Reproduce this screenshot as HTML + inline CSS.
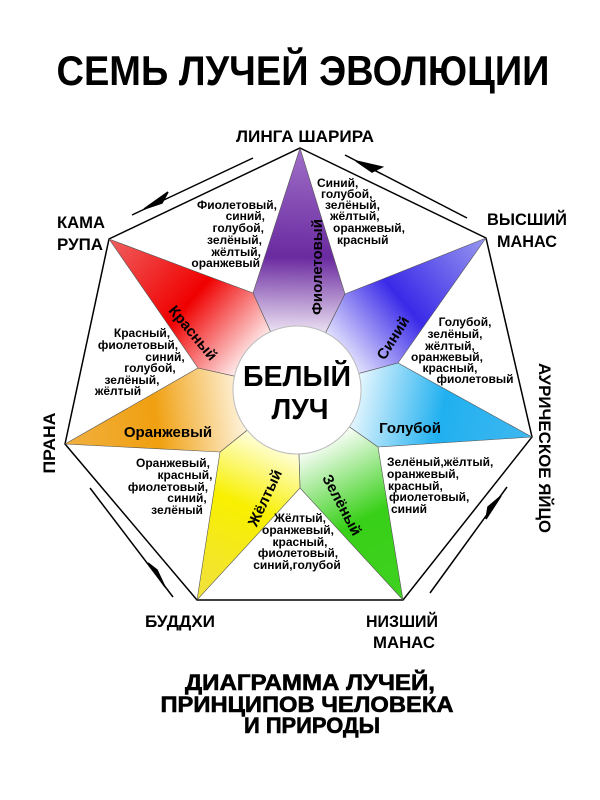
<!DOCTYPE html>
<html><head><meta charset="utf-8"><style>
html,body{margin:0;padding:0;background:#fff;}
svg{display:block;}
text{font-family:"Liberation Sans",sans-serif;font-weight:bold;fill:#000;}
.s{font-size:12px;}
.r{font-size:15px;}
.v{font-size:17px;}
</style></head><body>
<svg width="600" height="800" viewBox="0 0 600 800">
<defs>
<linearGradient id="gV" gradientUnits="userSpaceOnUse" x1="300" y1="148" x2="297" y2="330"><stop offset="0" stop-color="#a070c8"/><stop offset="0.6" stop-color="#6a2aa0"/><stop offset="1" stop-color="#e8dcf0"/></linearGradient>
<linearGradient id="gB" gradientUnits="userSpaceOnUse" x1="486" y1="238" x2="340" y2="360"><stop offset="0" stop-color="#9898f0"/><stop offset="0.55" stop-color="#3a2ae8"/><stop offset="1" stop-color="#f0f0ff"/></linearGradient>
<linearGradient id="gC" gradientUnits="userSpaceOnUse" x1="532" y1="437" x2="350" y2="400"><stop offset="0" stop-color="#40b8f0"/><stop offset="0.5" stop-color="#20b0f0"/><stop offset="1" stop-color="#f0faff"/></linearGradient>
<linearGradient id="gG" gradientUnits="userSpaceOnUse" x1="403" y1="600" x2="320" y2="440"><stop offset="0" stop-color="#40d020"/><stop offset="0.5" stop-color="#38d018"/><stop offset="1" stop-color="#ffffff"/></linearGradient>
<linearGradient id="gY" gradientUnits="userSpaceOnUse" x1="197" y1="600" x2="270" y2="440"><stop offset="0" stop-color="#f0e040"/><stop offset="0.6" stop-color="#f8f000"/><stop offset="1" stop-color="#ffffe0"/></linearGradient>
<linearGradient id="gO" gradientUnits="userSpaceOnUse" x1="65" y1="444" x2="250" y2="420"><stop offset="0" stop-color="#f0b040"/><stop offset="0.5" stop-color="#f0a010"/><stop offset="1" stop-color="#fff8e8"/></linearGradient>
<linearGradient id="gR" gradientUnits="userSpaceOnUse" x1="109" y1="239" x2="250" y2="360"><stop offset="0" stop-color="#f06060"/><stop offset="0.55" stop-color="#f00000"/><stop offset="1" stop-color="#fff0f0"/></linearGradient>
</defs>

<text x="303" y="85" font-size="42" text-anchor="middle" textLength="493" lengthAdjust="spacingAndGlyphs">СЕМЬ ЛУЧЕЙ ЭВОЛЮЦИИ</text>

<polygon points="300,148 486,238 532,437 403,600 197,600 65,444 109,239" fill="#fff" stroke="#000" stroke-width="1.5"/>

<g stroke="#555" stroke-width="0.6">
<polygon points="300,148 345,294 297,390 253,293" fill="url(#gV)"/>
<polygon points="486,238 398,363 297,390 345,294" fill="url(#gB)"/>
<polygon points="532,437 378,447 297,390 398,363" fill="url(#gC)"/>
<polygon points="403,600 300,488 297,390 378,447" fill="url(#gG)"/>
<polygon points="197,600 220,452 297,390 300,488" fill="url(#gY)"/>
<polygon points="65,444 198,368 297,390 220,452" fill="url(#gO)"/>
<polygon points="109,239 253,293 297,390 198,368" fill="url(#gR)"/>
</g>
<circle cx="297" cy="390" r="64" fill="#fff" stroke="#bbb" stroke-width="1"/>
<text x="297" y="386" font-size="29" text-anchor="middle" textLength="108" lengthAdjust="spacingAndGlyphs">БЕЛЫЙ</text>
<text x="300" y="419" font-size="29" text-anchor="middle" textLength="57" lengthAdjust="spacingAndGlyphs">ЛУЧ</text>

<text class="r" transform="translate(317,267) rotate(-90)" text-anchor="middle" dy="5">Фиолетовый</text>
<text class="r" transform="translate(193,333) rotate(50)" text-anchor="middle" dy="5">Красный</text>
<text class="r" transform="translate(393,338) rotate(-58)" text-anchor="middle" dy="5">Синий</text>
<text class="r" x="168" y="437" text-anchor="middle">Оранжевый</text>
<text class="r" x="410" y="433" text-anchor="middle">Голубой</text>
<text class="r" transform="translate(265,498) rotate(-65)" text-anchor="middle" dy="5">Жёлтый</text>
<text class="r" transform="translate(342,505) rotate(62)" text-anchor="middle" dy="5">Зелёный</text>

<g class="s">
<text x="277" y="209" text-anchor="end">Фиолетовый,</text>
<text x="265" y="220" text-anchor="end">синий,</text>
<text x="264" y="232" text-anchor="end">голубой,</text>
<text x="262" y="244" text-anchor="end">зелёный,</text>
<text x="261" y="256" text-anchor="end">жёлтый,</text>
<text x="260" y="267" text-anchor="end">оранжевый</text>

<text x="317" y="187">Синий,</text>
<text x="321" y="198">голубой,</text>
<text x="325" y="209">зелёный,</text>
<text x="330" y="220">жёлтый,</text>
<text x="333" y="232">оранжевый,</text>
<text x="337" y="244">красный</text>

<text x="465" y="326" text-anchor="middle">Голубой,</text>
<text x="455" y="338" text-anchor="middle">зелёный,</text>
<text x="450" y="350" text-anchor="middle">жёлтый,</text>
<text x="447" y="361" text-anchor="middle">оранжевый,</text>
<text x="450" y="372" text-anchor="middle">красный,</text>
<text x="475" y="383" text-anchor="middle">фиолетовый</text>

<text x="142" y="337" text-anchor="middle">Красный,</text>
<text x="138" y="349" text-anchor="middle">фиолетовый,</text>
<text x="165" y="361" text-anchor="middle">синий,</text>
<text x="150" y="372" text-anchor="middle">голубой,</text>
<text x="132" y="384" text-anchor="middle">зелёный,</text>
<text x="118" y="395" text-anchor="middle">жёлтый</text>

<text x="173" y="467" text-anchor="middle">Оранжевый,</text>
<text x="185" y="479" text-anchor="middle">красный,</text>
<text x="168" y="491" text-anchor="middle">фиолетовый,</text>
<text x="187" y="502" text-anchor="middle">синий,</text>
<text x="177" y="514" text-anchor="middle">зелёный</text>

<text x="387" y="466">Зелёный,жёлтый,</text>
<text x="387" y="478">оранжевый,</text>
<text x="388" y="490">красный,</text>
<text x="389" y="501">фиолетовый,</text>
<text x="391" y="513">синий</text>

<text x="300" y="522" text-anchor="middle">Жёлтый,</text>
<text x="298" y="534" text-anchor="middle">оранжевый,</text>
<text x="300" y="546" text-anchor="middle">красный,</text>
<text x="298" y="557" text-anchor="middle">фиолетовый,</text>
<text x="297" y="569" text-anchor="middle">синий,голубой</text>
</g>

<text class="v" x="305" y="142" text-anchor="middle" textLength="138" lengthAdjust="spacingAndGlyphs">ЛИНГА ШАРИРА</text>
<text class="v" x="57" y="228" textLength="48" lengthAdjust="spacingAndGlyphs">КАМА</text>
<text class="v" x="57" y="250" textLength="46" lengthAdjust="spacingAndGlyphs">РУПА</text>
<text class="v" x="527" y="225" text-anchor="middle" textLength="80" lengthAdjust="spacingAndGlyphs">ВЫСШИЙ</text>
<text class="v" x="527" y="247" text-anchor="middle" textLength="60" lengthAdjust="spacingAndGlyphs">МАНАС</text>
<text class="v" transform="translate(55,443) rotate(-90)" text-anchor="middle" textLength="61" lengthAdjust="spacingAndGlyphs">ПРАНА</text>
<text class="v" transform="translate(539,448) rotate(90)" text-anchor="middle" textLength="170" lengthAdjust="spacingAndGlyphs">АУРИЧЕСКОЕ ЯЙЦО</text>
<text class="v" x="180" y="627" text-anchor="middle" textLength="70" lengthAdjust="spacingAndGlyphs">БУДДХИ</text>
<text class="v" x="402" y="627" text-anchor="middle" textLength="72" lengthAdjust="spacingAndGlyphs">НИЗШИЙ</text>
<text class="v" x="404" y="648" text-anchor="middle" textLength="62" lengthAdjust="spacingAndGlyphs">МАНАС</text>

<g stroke="#000" stroke-width="1.5" fill="#000">
<line x1="253" y1="158" x2="132" y2="215"/>
<polygon points="144,209 168,192 162,203" />
<line x1="467" y1="218" x2="345" y2="155"/>
<polygon points="356,161 382,167 372,172"/>
<line x1="90" y1="488" x2="173" y2="597"/>
<polygon points="165,587 148,563 157,570"/>
<line x1="430" y1="593" x2="507" y2="487"/>
<polygon points="501,496 486,519 488,507"/>
</g>

<text x="310" y="690" font-size="22" text-anchor="middle" textLength="250" lengthAdjust="spacingAndGlyphs" stroke="#000" stroke-width="0.6">ДИАГРАММА ЛУЧЕЙ,</text>
<text x="307" y="712" font-size="22" text-anchor="middle" textLength="293" lengthAdjust="spacingAndGlyphs" stroke="#000" stroke-width="0.6">ПРИНЦИПОВ ЧЕЛОВЕКА</text>
<text x="312" y="733" font-size="22" text-anchor="middle" textLength="136" lengthAdjust="spacingAndGlyphs" stroke="#000" stroke-width="0.6">И ПРИРОДЫ</text>
</svg>
</body></html>
